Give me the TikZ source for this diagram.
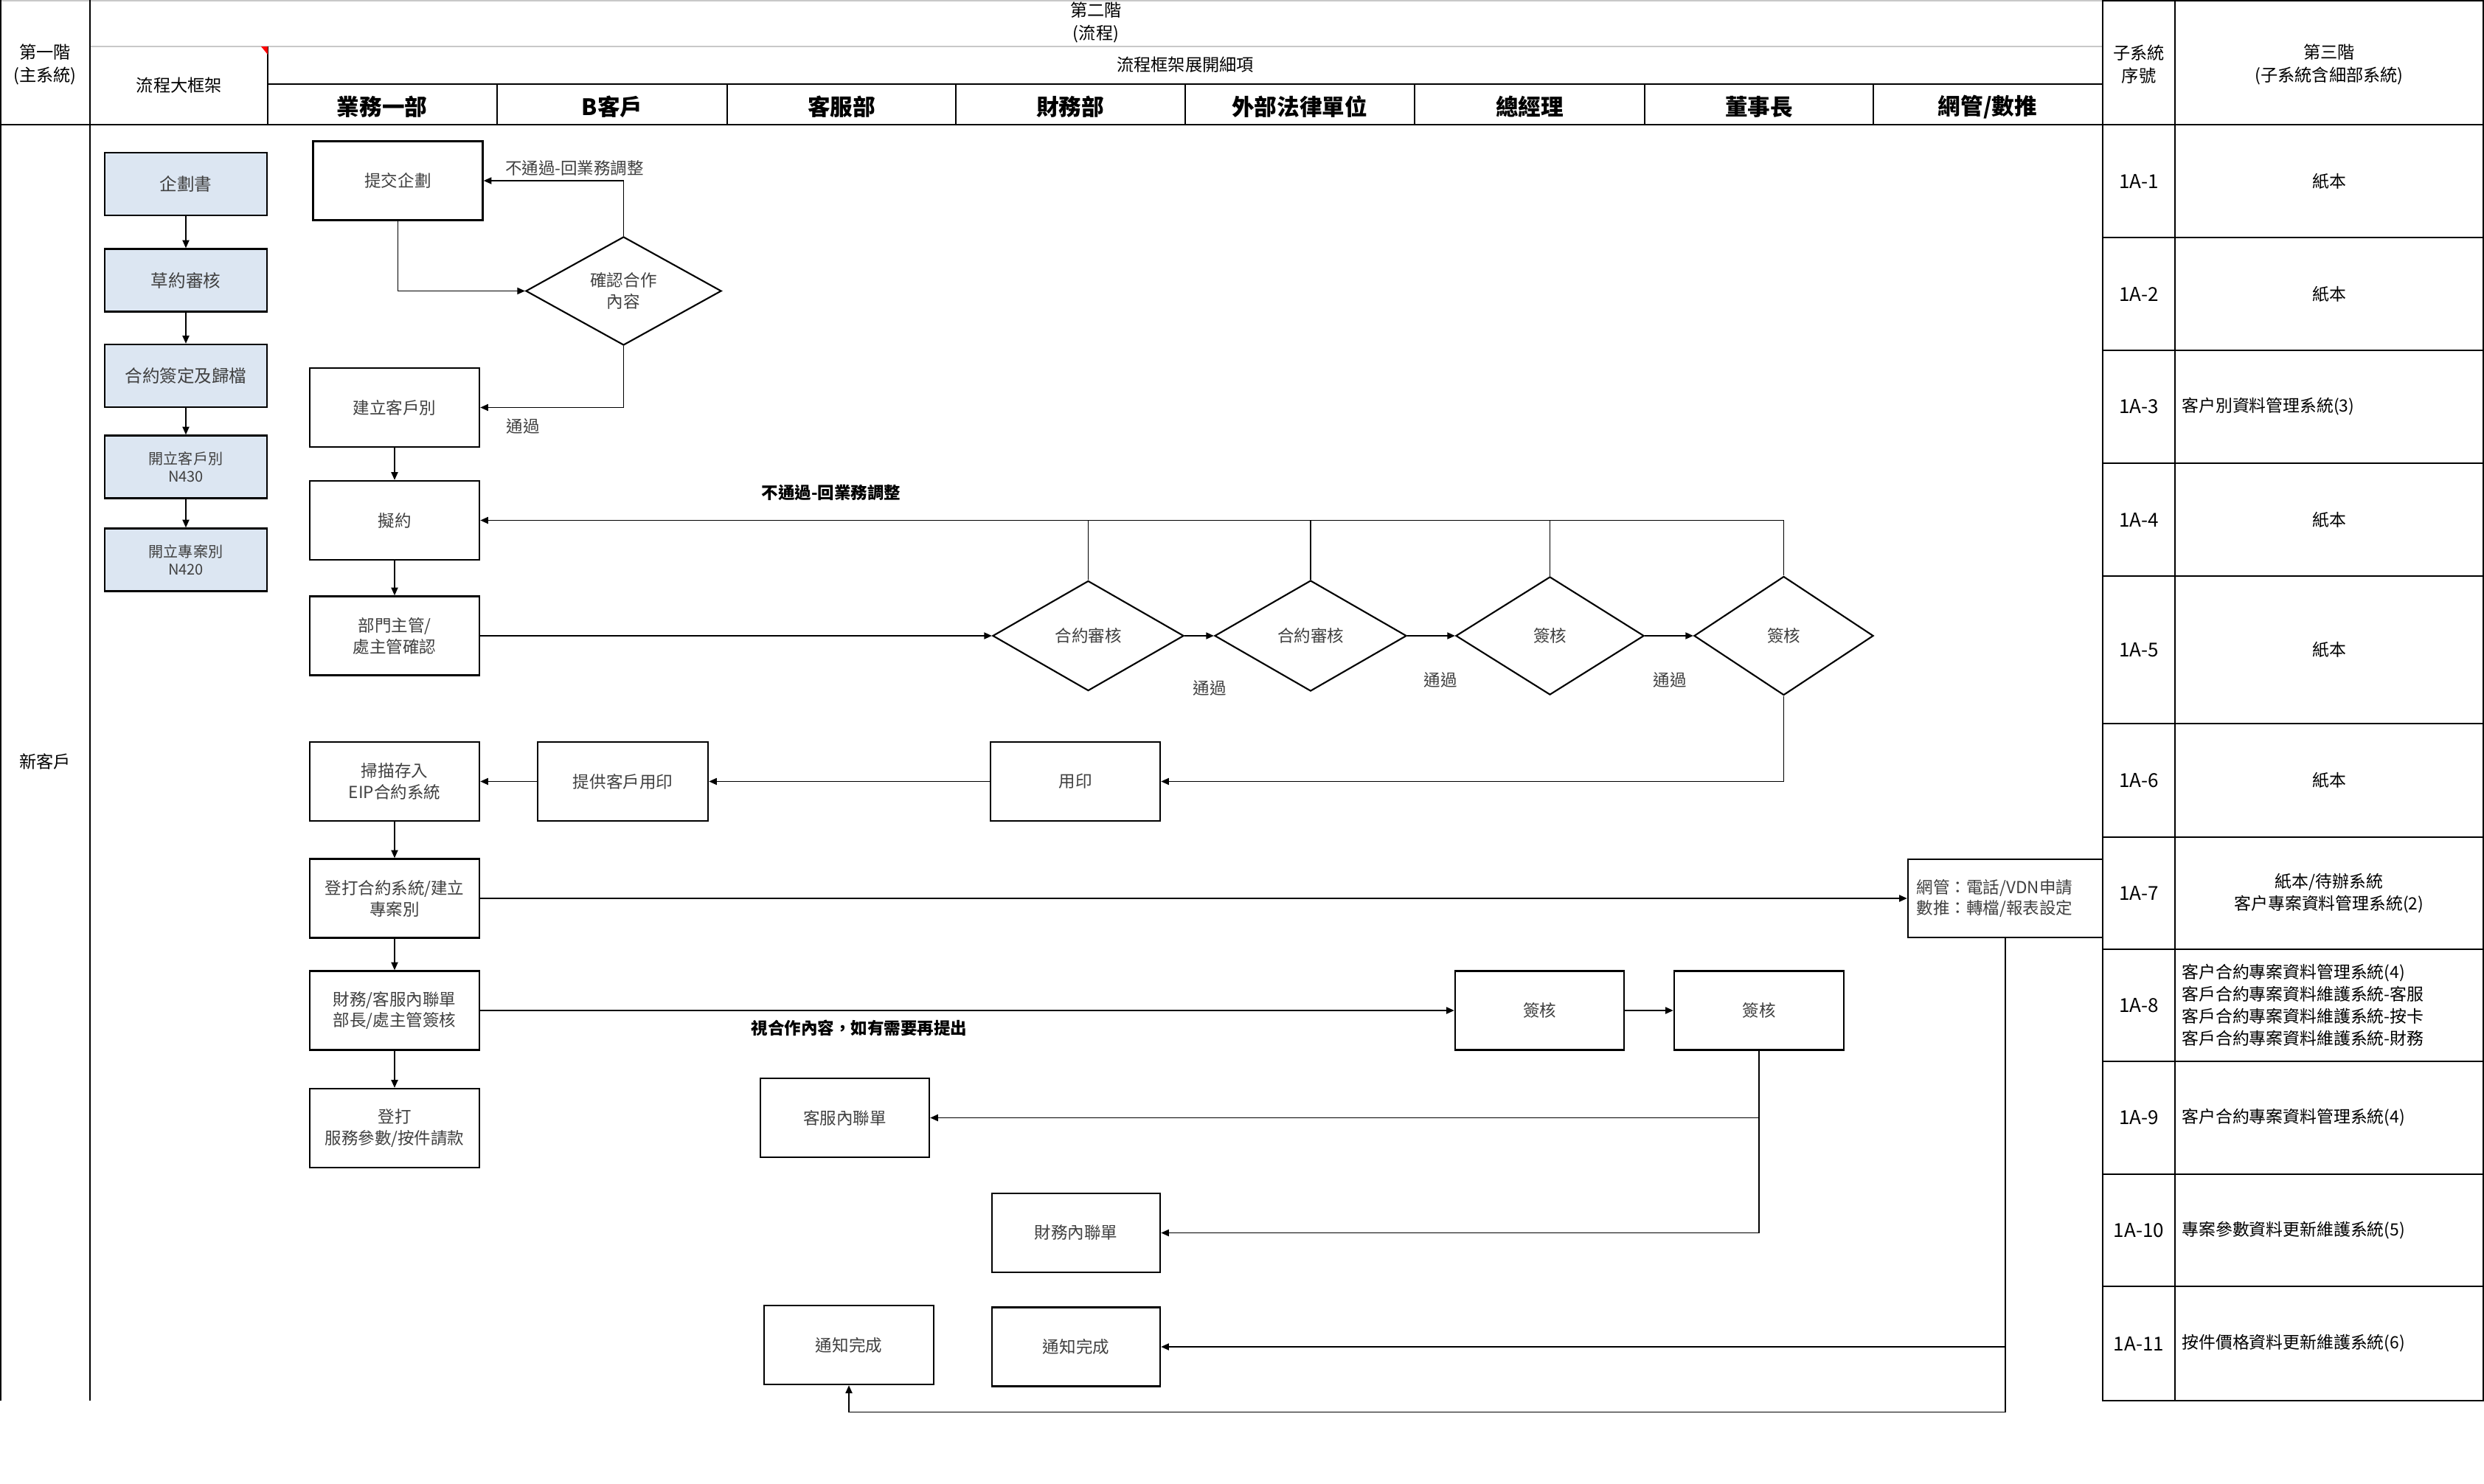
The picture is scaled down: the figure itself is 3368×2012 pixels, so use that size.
\documentclass[tikz,border=0pt]{standalone}
\usepackage{fontspec}
\setmainfont{Noto Sans CJK TC}
\usetikzlibrary{shapes.geometric,arrows.meta,positioning}

\definecolor{paleblue}{HTML}{DCE6F2}
\definecolor{inkgray}{HTML}{404040}
\definecolor{rulegray}{HTML}{C8C8C8}
\newcommand{\boxsize}{\fontsize{6.4}{8.2}\selectfont}
\newcommand{\bigboxsize}{\fontsize{6.7}{8.2}\selectfont}
\newcommand{\smallboxsize}{\fontsize{5.7}{6.9}\selectfont}
\newcommand{\hdrsize}{\fontsize{6.6}{8.8}\selectfont}
\newcommand{\lanesize}{\fontsize{8.7}{9}\selectfont}
\newcommand{\cellsize}{\fontsize{6.5}{8.5}\selectfont}
\newcommand{\idsize}{\fontsize{7.4}{8.5}\selectfont}

\begin{document}
\begin{tikzpicture}[x=0.01cm, y=-0.01cm,
  flowbox/.style={draw, line width=0.7pt, minimum width=2.3cm, minimum height=1.07cm,
    inner sep=1pt, align=center, font=\boxsize, text=inkgray},
  mainbox/.style={flowbox, fill=paleblue, minimum width=2.2cm, minimum height=0.85cm, font=\bigboxsize},
  decide/.style={diamond, draw, line width=0.6pt, inner sep=0pt, align=center,
    font=\boxsize, text=inkgray},
  link/.style={line width=0.4pt},
  arr/.style={link, -{Triangle[length=3pt,width=2.6pt]}},
  hdr/.style={align=center, font=\hdrsize},
  lane/.style={font=\lanesize\bfseries},
  note/.style={font=\boxsize, text=inkgray},
  boldnote/.style={font=\boxsize\bfseries},
  cell/.style={font=\cellsize, align=center}]

  \useasboundingbox (0,0) rectangle (3368,2012);
  \fill[white] (0,0) rectangle (3368,2012);

  % table frame
  \draw[rulegray, line width=0.5pt] (0,1) -- (2851,1);
  \draw[rulegray, line width=0.5pt] (122,63) -- (2851,63);
  \draw[line width=0.6pt] (363,114) -- (2851,114);
  \draw[line width=0.8pt] (0,169) -- (3368,169);
  \draw[line width=0.8pt] (1,0) -- (1,1899);
  \draw[line width=0.5pt] (122,0) -- (122,1899);
  \draw[line width=0.3pt] (363,63) -- (363,169);
  \foreach \x in {674,986,1296,1607,1918,2230,2540}
    \draw[line width=0.3pt] (\x,114) -- (\x,169);
  \draw[line width=0.7pt] (2851,1) rectangle (3367,1899);
  \draw[line width=0.6pt] (2949,1) -- (2949,1899);
  \foreach \y in {322,475,628,781,981,1135,1287,1439,1592,1744}
    \draw[line width=0.35pt] (2851,\y) -- (3367,\y);
  \fill[red] (354,63) -- (363,63) -- (363,74) -- cycle;

  % headers
  \node[hdr] (lvlone) at (61,87) {第一階\\(主系統)};
  \node[hdr] (lvltwo) at (1486,30) {第二階\\(流程)};
  \node[hdr] (frame) at (243,116) {流程大框架};
  \node[hdr] (detail) at (1607,88) {流程框架展開細項};
  \node[hdr] (subno) at (2900,87) {子系統\\序號};
  \node[hdr] (lvlthree) at (3158,87) {第三階\\(子系統含細部系統)};
  \node[hdr] (newcust) at (61,1033) {新客戶};

  \node[lane] (laneA) at (518,145) {業務一部};
  \node[lane] (laneB) at (830,145) {B客戶};
  \node[lane] (laneC) at (1141,145) {客服部};
  \node[lane] (laneD) at (1451,145) {財務部};
  \node[lane] (laneE) at (1762,145) {外部法律單位};
  \node[lane] (laneF) at (2074,145) {總經理};
  \node[lane] (laneG) at (2385,145) {董事長};
  \node[lane] (laneH) at (2695,145) {網管/數推};

  % main frame column
  \node[mainbox] (plan) at (252,249.5) {企劃書};
  \node[mainbox] (draftrev) at (252,380) {草約審核};
  \node[mainbox] (signfile) at (252,509.5) {合約簽定及歸檔};
  \node[mainbox, font=\smallboxsize] (opencust) at (252,633) {開立客戶別\\N430};
  \node[mainbox, font=\smallboxsize] (openproj) at (252,759) {開立專案別\\N420};
  \draw[arr] (plan) -- (draftrev);
  \draw[arr] (draftrev) -- (signfile);
  \draw[arr] (signfile) -- (opencust);
  \draw[arr] (opencust) -- (openproj);

  % flow
  \node[flowbox] (submit) at (539.5,245) {提交企劃};
  \node[decide, minimum width=2.65cm, minimum height=1.47cm] (confirm) at (845.5,394.5) {確認合作\\內容};
  \node[flowbox] (custid) at (535,552.5) {建立客戶別};
  \node[flowbox] (draft) at (535,705.5) {擬約};
  \node[flowbox] (mgr) at (535,862) {部門主管/\\處主管確認};
  \node[decide, minimum width=2.59cm, minimum height=1.49cm] (revone) at (1475.5,862) {合約審核};
  \node[decide, minimum width=2.6cm, minimum height=1.5cm] (revtwo) at (1777,862) {合約審核};
  \node[decide, minimum width=2.55cm, minimum height=1.6cm] (sgnone) at (2101.5,862) {簽核};
  \node[decide, minimum width=2.43cm, minimum height=1.61cm] (sgntwo) at (2418.5,862) {簽核};
  \node[flowbox] (scan) at (535,1059.5) {掃描存入\\EIP合約系統};
  \node[flowbox, minimum width=2.31cm] (provide) at (844.5,1059.5) {提供客戶用印};
  \node[flowbox] (stamp) at (1458,1059.5) {用印};
  \node[flowbox] (keyin) at (535,1218) {登打合約系統/建立\\專案別};
  \node[flowbox, text width=2.4cm, inner xsep=0.12cm, minimum height=1.06cm, align=left]
    (netbox) at (2719,1218) {網管：電話/VDN申請\\數推：轉檔/報表設定};
  \node[flowbox] (finsvc) at (535,1370) {財務/客服內聯單\\部長/處主管簽核};
  \node[flowbox, minimum width=2.29cm] (chkone) at (2087.5,1370) {簽核};
  \node[flowbox] (chktwo) at (2385,1370) {簽核};
  \node[flowbox] (keysvc) at (535,1529.5) {登打\\服務參數/按件請款};
  \node[flowbox, minimum width=2.29cm] (svcnote) at (1145.5,1515.5) {客服內聯單};
  \node[flowbox, minimum width=2.28cm] (finnote) at (1459,1671.5) {財務內聯單};
  \node[flowbox] (doneleft) at (1151,1823.5) {通知完成};
  \node[flowbox, minimum width=2.28cm] (doneright) at (1459,1826) {通知完成};

  \draw[arr] (submit.south) |- (confirm.west);
  \draw[arr] (confirm.north) |- (submit.east);
  \draw[arr] (confirm.south) |- (custid.east);
  \draw[arr] (custid) -- (draft);
  \draw[arr] (draft) -- (mgr);
  \draw[arr] (mgr) -- (revone);
  \draw[arr] (revone) -- (revtwo);
  \draw[arr] (revtwo) -- (sgnone);
  \draw[arr] (sgnone) -- (sgntwo);
  \draw[arr] (sgntwo.north) |- (draft.east);
  \draw[link] (revone.north) -- (revone.north |- draft.east);
  \draw[link] (revtwo.north) -- (revtwo.north |- draft.east);
  \draw[link] (sgnone.north) -- (sgnone.north |- draft.east);
  \draw[arr] (sgntwo.south) |- (stamp.east);
  \draw[arr] (stamp) -- (provide);
  \draw[arr] (provide) -- (scan);
  \draw[arr] (scan) -- (keyin);
  \draw[arr] (keyin) -- (finsvc);
  \draw[arr] (finsvc) -- (keysvc);
  \draw[arr] (keyin) -- (netbox);
  \draw[arr] (finsvc) -- (chkone);
  \draw[arr] (chkone) -- (chktwo);
  \draw[arr] (chktwo.south) |- (finnote.east);
  \draw[arr] (chktwo.south |- svcnote.east) -- (svcnote.east);
  \draw[arr] (netbox.south) |- (doneright.east);
  \path (netbox.south) ++(0,642) coordinate (loopend);
  \draw[arr] (netbox.south) -- (loopend) -| (doneleft.south);

  % labels
  \node[note] (backA) at (779,228) {不通過-回業務調整};
  \node[note] (passA) at (709,578) {通過};
  \node[boldnote] (backB) at (1127,668) {不通過-回業務調整};
  \node[note] (passB) at (1640,933) {通過};
  \node[note] (passC) at (1953,922) {通過};
  \node[note] (passD) at (2264,922) {通過};
  \node[boldnote] (askmore) at (1165,1394) {視合作內容，如有需要再提出};

  % sub-system table
  \foreach \y [count=\i] in {245.5,398.5,551.5,704.5,881,1058,1211,1363,1515.5,1668,1821.5}
    \node[cell, font=\idsize] (id\i) at (2900,\y) {1A-\i};
  \foreach \y [count=\i] in {245.5,398.5,704.5,881,1058}
    \node[cell] (paper\i) at (3158,\y) {紙本};
  \node[cell, anchor=west] (systhree) at (2946,551.5) {客户別資料管理系統(3)};
  \node[cell] (sysseven) at (3158,1211) {紙本/待辦系統\\客户專案資料管理系統(2)};
  \node[cell, anchor=west, align=left] (syseight) at (2946,1363)
    {客户合約專案資料管理系統(4)\\客戶合約專案資料維護系統-客服\\客戶合約專案資料維護系統-按卡\\客戶合約專案資料維護系統-財務};
  \node[cell, anchor=west] (sysnine) at (2946,1515.5) {客户合約專案資料管理系統(4)};
  \node[cell, anchor=west] (systen) at (2946,1668) {專案參數資料更新維護系統(5)};
  \node[cell, anchor=west] (syseleven) at (2946,1821.5) {按件價格資料更新維護系統(6)};
\end{tikzpicture}
\end{document}
